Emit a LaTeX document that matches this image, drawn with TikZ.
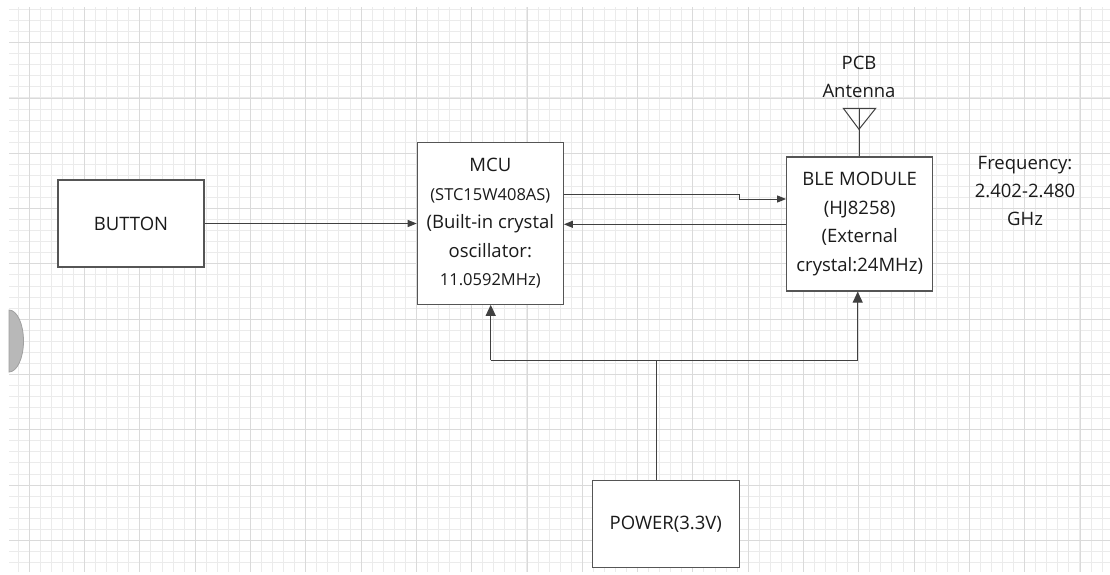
\documentclass[tikz,border=0pt]{standalone}
\usepackage{fontspec}
\setmainfont{Open Sans}
\usetikzlibrary{arrows.meta,calc}
\definecolor{minorc}{HTML}{EBEBEB}
\definecolor{majorc}{HTML}{DADADA}
\definecolor{boxc}{HTML}{555555}
\definecolor{linec}{HTML}{404040}
\definecolor{txtc}{HTML}{1A1A1A}
\tikzset{
  blockbox/.style={draw=boxc, line width=1.2pt, fill=white, rectangle, inner sep=0pt, align=center, text=txtc, font=\fontsize{18.5}{28.5}\selectfont},
  conn/.style={draw=linec, line width=1pt},
  harr/.style={conn, -{Triangle[length=9pt,width=7pt]}},
  varr/.style={conn, -{Triangle[length=11pt,width=10pt]}},
  label/.style={text=txtc, align=center, inner sep=0pt, font=\fontsize{18.5}{28}\selectfont},
  minorline/.style={draw=minorc, line width=1pt},
  majorline/.style={draw=majorc, line width=1pt},
}
\newcommand{\smalltxt}[1]{{\fontsize{16.5}{28.5}\selectfont #1}}
\begin{document}
\begin{tikzpicture}[x=1pt,y=-1pt]
\useasboundingbox (0,0) rectangle (1110,574);
\fill[white] (0,0) rectangle (1110,574);
% grid
\foreach \j in {-1,...,98} {
  \pgfmathsetmacro\xx{floor(29.3+11.06*\j)+0.5}
  \draw[minorline] (\xx,7) -- (\xx,572);
}
\foreach \j in {-3,...,47} {
  \pgfmathsetmacro\yy{floor(42.7+11.06*\j)+0.5}
  \draw[minorline] (9,\yy) -- (1110,\yy);
}
\foreach \j in {0,...,19} {
  \pgfmathsetmacro\xx{floor(29.3+55.3*\j)+0.5}
  \draw[majorline] (\xx,7) -- (\xx,572);
}
\foreach \j in {0,...,9} {
  \pgfmathsetmacro\yy{floor(42.7+55.3*\j)+0.5}
  \draw[majorline] (9,\yy) -- (1110,\yy);
}
% half circle at left
\fill[fill={rgb,255:red,184;green,184;blue,184}, draw={rgb,255:red,160;green,160;blue,160}, line width=0.8pt]
  (9,310) arc[start angle=-90, end angle=90, x radius=14.5, y radius=31] -- cycle;

% blocks
\node[blockbox, minimum width=146pt, minimum height=87pt] (button) at (131,223.5) {BUTTON};
\node[blockbox, minimum width=146pt, minimum height=161.5pt] (mcu) at (490.3,223.5)
  {MCU\\\smalltxt{(STC15W408AS)}\\(Built-in crystal\\oscillator:\\\smalltxt{11.0592MHz)}};
\node[blockbox, minimum width=146pt, minimum height=134pt] (ble) at (859.7,224)
  {BLE MODULE\\(HJ8258)\\(External\\crystal:24MHz)};
\node[blockbox, minimum width=147pt, minimum height=87pt] (power) at (665.8,524.3) {POWER(3.3V)};

% labels
\node[label] (pcb) at (859,77) {PCB\\Antenna};
\node[label] (freq) at (1025,190.5) {Frequency:\\2.402-2.480\\GHz};

% antenna
\draw[conn] (843.3,108.3) -- (875.7,108.3) -- (859,129.3) -- cycle;
\coordinate (anttop) at (859,108.3);
\draw[conn] (anttop) -- (anttop |- ble.north);

% connectors
\draw[harr] (button.east) -- (mcu.west);
\coordinate (stepA) at (739.3,194);
\coordinate (stepB) at (739.3,199);
\draw[harr] (mcu.east |- stepA) -- (stepA) -- (stepB) -- (ble.west |- stepB);
\coordinate (back) at (700,224.3);
\draw[harr] (ble.west |- back) -- (mcu.east |- back);

% power distribution
\coordinate (pjoin) at (656.3,360);
\coordinate (pl) at (490.7,360);
\coordinate (pr) at (857.7,360);
\draw[conn] (pjoin |- power.north) -- (pjoin);
\draw[conn] (pl) -- (pr);
\draw[varr] (pl) -- (pl |- mcu.south);
\draw[varr] (pr) -- (pr |- ble.south);
\end{tikzpicture}
\end{document}
